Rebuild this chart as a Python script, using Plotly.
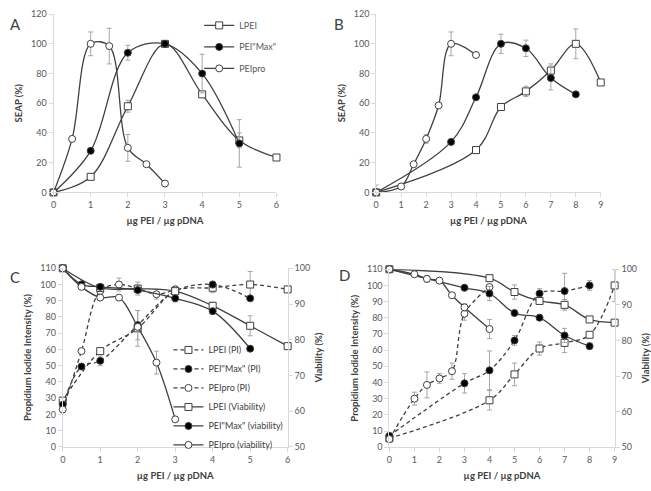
import plotly.graph_objects as go

# ---------------- Panel A ----------------
A_LPEI_x = [0, 1, 2, 3, 4, 5, 6]
A_LPEI_y = [0, 10.5, 58, 100, 66, 35, 23.5]
A_LPEI_e = [None, 2, 4, None, None, 5, None]
A_MAX_x = [0, 1, 2, 3, 4, 5]
A_MAX_y = [0, 28, 94, 100, 80, 33]
A_MAX_e = [None, None, 5, None, 13, 16]
A_PRO_x = [0, 0.5, 1, 1.5, 2, 2.5, 3]
A_PRO_y = [0, 36, 100, 98.5, 30, 19, 6]
A_PRO_e = [None, None, 8, 12, 9, None, None]

# ---------------- Panel B ----------------
B_LPEI_x = [0, 4, 5, 6, 7, 8, 9]
B_LPEI_y = [0, 28.5, 57.5, 68, 82, 100, 74]
B_LPEI_e = [5, None, None, 3.5, 4.5, 10, None]
B_MAX_x = [0, 3, 4, 5, 6, 7, 8]
B_MAX_y = [0, 34, 64, 100, 97, 77, 66]
B_MAX_e = [None, None, None, 6.5, 5.5, 8, None]
B_PRO_x = [0, 1, 1.5, 2, 2.5, 3, 4]
B_PRO_y = [0, 4, 19, 36, 58.5, 100, 92.5]
B_PRO_e = [None, None, None, 3, None, 8, None]

# ---------------- Panel C (PI, left axis) ----------------
C_LPEI_PI_x = [0, 1, 2, 3, 4, 5, 6]
C_LPEI_PI_y = [28.5, 59, 73, 96, 98, 100, 97]
C_LPEI_PI_e = [None, 2, 11, 2, 3, 8, None]
C_MAX_PI_x = [0, 0.5, 1, 2, 3, 4, 5]
C_MAX_PI_y = [26, 49.5, 53, 75, 96, 100, 91.5]
C_MAX_PI_e = [None, None, 3, 9, None, 2, None]
C_PRO_PI_x = [0, 0.5, 1, 1.5, 2, 2.5, 3]
C_PRO_PI_y = [23, 59, 96, 100, 97.5, 94, 97]
C_PRO_PI_e = [None, None, None, 4, 4, 3, 2]
# ---------------- Panel C (Viability, right axis) ----------------
C_LPEI_V_x = [0, 1, 2, 3, 4, 5, 6]
C_LPEI_V_y = [100, 94.5, 94.3, 93.6, 89.5, 83.9, 78.2]
C_LPEI_V_e = [None, None, 1, None, 1, 2.8, None]
C_MAX_V_x = [0, 0.5, 1, 2, 3, 4, 5]
C_MAX_V_y = [100, 95.5, 94.8, 93.9, 91.6, 88.0, 77.5]
C_MAX_V_e = [None, None, None, None, 1, None, None]
C_PRO_V_x = [0, 0.5, 1, 1.5, 2, 2.5, 3]
C_PRO_V_y = [100, 94.8, 91.8, 91.8, 83.6, 73.6, 57.7]
C_PRO_V_e = [None, None, None, None, None, 3.2, None]

# ---------------- Panel D (PI, left axis) ----------------
D_LPEI_PI_x = [0, 4, 5, 6, 7, 8, 9]
D_LPEI_PI_y = [5.5, 29, 45, 61, 64.5, 69.5, 100]
D_LPEI_PI_e = [None, 6, 7, 4, 6, None, 10]
D_MAX_PI_x = [0, 3, 4, 5, 6, 7, 8]
D_MAX_PI_y = [7, 39.5, 47.5, 66, 95, 96.5, 100]
D_MAX_PI_e = [None, 6, 12, 3, 3, 11, 3]
D_PRO_PI_x = [0, 1, 1.5, 2, 2.5, 3, 4]
D_PRO_PI_y = [5, 30, 38.5, 42.5, 47, 82.5, 99]
D_PRO_PI_e = [None, 4, 8, 3, 5, 4, None]
# ---------------- Panel D (Viability, right axis) ----------------
D_LPEI_V_x = [0, 4, 5, 6, 7, 8, 9]
D_LPEI_V_y = [100, 97.5, 93.6, 91.1, 90, 85.9, 85]
D_LPEI_V_e = [None, None, 2, 1, 1.5, None, None]
D_MAX_V_x = [0, 3, 4, 5, 6, 7, 8]
D_MAX_V_y = [100, 94.8, 93.2, 87.7, 86.4, 81.4, 78.4]
D_MAX_V_e = [None, 0.8, 2, None, 0.8, 2, 0.8]
D_PRO_V_x = [0, 1, 1.5, 2, 2.5, 3, 4]
D_PRO_V_y = [100, 98.6, 97.3, 96.8, 92.7, 89.3, 83.2]
D_PRO_V_e = [None, None, 1, None, None, 1, 2.7]

LEG_A = ["LPEI", 'PEI"Max"', "PEIpro"]
LEG_C = ["LPEI (PI)", 'PEI"Max" (PI)', "PEIpro (PI)",
         "LPEI (Viability)", 'PEI"Max" (viability)', "PEIpro (viability)"]

XTITLE = "µg PEI / µg pDNA"
FONT = "Lato"
LINE = "#404040"
AXC = "#d9d9d9"
TXT = "#595959"

fig = go.Figure()

STYLE = {
    "LPEI": dict(symbol="square", color="white"),
    "MAX": dict(symbol="circle", color="black"),
    "PRO": dict(symbol="circle", color="white"),
}


def add(x, y, e, kind, dash, name, xa, ya, legend=None):
    st = STYLE[kind]
    fig.add_trace(go.Scatter(
        x=x, y=y, mode="lines+markers", name=name,
        xaxis=xa, yaxis=ya,
        line=dict(color=LINE, width=1.3, shape="spline", smoothing=1, dash=dash),
        marker=dict(symbol=st["symbol"], size=7, color=st["color"],
                    line=dict(color=LINE, width=1)),
        error_y=dict(type="data", array=e, color="#a6a6a6", thickness=1, width=2.5),
        cliponaxis=False,
        showlegend=legend is not None,
        legend=legend if legend else "legend",
        legendgroup=name,
    ))


DASH = "4px,3px"
# A
add(A_LPEI_x, A_LPEI_y, A_LPEI_e, "LPEI", "solid", LEG_A[0], "x", "y", "legend")
add(A_MAX_x, A_MAX_y, A_MAX_e, "MAX", "solid", LEG_A[1], "x", "y", "legend")
add(A_PRO_x, A_PRO_y, A_PRO_e, "PRO", "solid", LEG_A[2], "x", "y", "legend")
# B
add(B_LPEI_x, B_LPEI_y, B_LPEI_e, "LPEI", "solid", "LPEI B", "x2", "y2")
add(B_MAX_x, B_MAX_y, B_MAX_e, "MAX", "solid", "MAX B", "x2", "y2")
add(B_PRO_x, B_PRO_y, B_PRO_e, "PRO", "solid", "PRO B", "x2", "y2")
# C
add(C_LPEI_PI_x, C_LPEI_PI_y, C_LPEI_PI_e, "LPEI", DASH, LEG_C[0], "x3", "y3", "legend2")
add(C_MAX_PI_x, C_MAX_PI_y, C_MAX_PI_e, "MAX", DASH, LEG_C[1], "x3", "y3", "legend2")
add(C_PRO_PI_x, C_PRO_PI_y, C_PRO_PI_e, "PRO", DASH, LEG_C[2], "x3", "y3", "legend2")
add(C_LPEI_V_x, C_LPEI_V_y, C_LPEI_V_e, "LPEI", "solid", LEG_C[3], "x3", "y4", "legend2")
add(C_MAX_V_x, C_MAX_V_y, C_MAX_V_e, "MAX", "solid", LEG_C[4], "x3", "y4", "legend2")
add(C_PRO_V_x, C_PRO_V_y, C_PRO_V_e, "PRO", "solid", LEG_C[5], "x3", "y4", "legend2")
# D
add(D_LPEI_PI_x, D_LPEI_PI_y, D_LPEI_PI_e, "LPEI", DASH, "LPEI PI D", "x4", "y5")
add(D_MAX_PI_x, D_MAX_PI_y, D_MAX_PI_e, "MAX", DASH, "MAX PI D", "x4", "y5")
add(D_PRO_PI_x, D_PRO_PI_y, D_PRO_PI_e, "PRO", DASH, "PRO PI D", "x4", "y5")
add(D_LPEI_V_x, D_LPEI_V_y, D_LPEI_V_e, "LPEI", "solid", "LPEI V D", "x4", "y6")
add(D_MAX_V_x, D_MAX_V_y, D_MAX_V_e, "MAX", "solid", "MAX V D", "x4", "y6")
add(D_PRO_V_x, D_PRO_V_y, D_PRO_V_e, "PRO", "solid", "PRO V D", "x4", "y6")

W, H = 651, 491


def px(a, b):
    return [a / W, b / W]


def py(top, bottom):
    return [1 - bottom / H, 1 - top / H]


tickfont = dict(family=FONT, size=9, color=TXT)
titlefont = dict(family=FONT, size=9.5, color="#404040", weight="bold")


def xax(dom, rng, dtick, anchor):
    return dict(domain=dom, range=rng, dtick=dtick, anchor=anchor,
                showline=True, linecolor=AXC, linewidth=1, ticks="outside",
                ticklen=4, tickcolor=AXC, showgrid=False, zeroline=False,
                tickfont=tickfont, title=dict(text=XTITLE, font=titlefont, standoff=8))


def yax(dom, rng, dtick, anchor, title, side="left", overlay=None):
    d = dict(domain=dom, range=rng, dtick=dtick, anchor=anchor, side=side,
             showline=True, linecolor=AXC, linewidth=1, ticks="outside",
             ticklen=4, tickcolor=AXC, showgrid=False, zeroline=False,
             tickfont=tickfont, title=dict(text=title, font=titlefont, standoff=6))
    if overlay:
        d["overlaying"] = overlay
    return d


fig.update_layout(
    width=W, height=H, margin=dict(l=0, r=0, t=0, b=0),
    paper_bgcolor="white", plot_bgcolor="white",
    font=dict(family=FONT, color=TXT),
    xaxis=xax(px(51, 276), [0, 6], 1, "y"),
    yaxis=yax(py(8.3, 190.7), [0, 120], 20, "x", "SEAP (%)"),
    xaxis2=xax(px(376.7, 603.3), [0, 9], 1, "y2"),
    yaxis2=yax(py(8.3, 190.7), [0, 120], 20, "x2", "SEAP (%)"),
    xaxis3=xax(px(60.3, 287.3), [0, 6], 1, "y3"),
    yaxis3=yax(py(268.3, 451), [0, 110], 10, "x3", "Propidium Iodide Intensity (%)"),
    yaxis4=yax(py(268.3, 451), [50, 100], 10, "x3", "Viability (%)", side="right", overlay="y3"),
    xaxis4=xax(px(390, 617.3), [0, 9], 1, "y5"),
    yaxis5=yax(py(269.3, 451.3), [0, 110], 10, "x4", "Propidium Iodide Intensity (%)"),
    yaxis6=yax(py(269.3, 451.3), [50, 100], 10, "x4", "Viability (%)", side="right", overlay="y5"),
    legend=dict(x=198 / W, y=1 - 5 / H, xanchor="left", yanchor="top",
                bgcolor="rgba(0,0,0,0)", font=dict(family=FONT, size=9, color=TXT),
                traceorder="grouped", tracegroupgap=2.5, itemwidth=30),
    legend2=dict(x=167 / W, y=1 - 337 / H, xanchor="left", yanchor="top",
                 bgcolor="rgba(0,0,0,0)", font=dict(family=FONT, size=9, color="#404040"),
                 traceorder="grouped", tracegroupgap=0, itemwidth=30),
)

for lab, xx, yy in [("A", 5, 18), ("B", 332, 18), ("C", 5, 277), ("D", 337, 275)]:
    fig.add_annotation(text=lab, x=xx / W, y=1 - yy / H, xref="paper", yref="paper",
                       showarrow=False, xanchor="left", yanchor="middle",
                       font=dict(family=FONT, size=15, color="#404040"))

fig.write_html("out.html")
